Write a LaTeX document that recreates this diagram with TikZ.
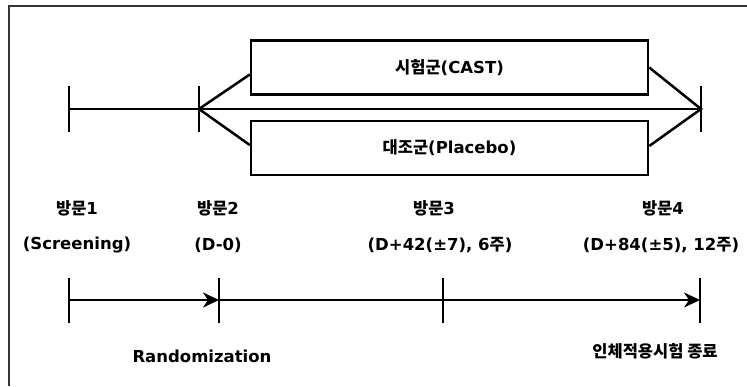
\documentclass[tikz,border=0pt]{standalone}
\usepackage{fontspec}
\setmainfont{DejaVu Sans}
\newfontfamily\krfont{Noto Sans CJK KR}
\newcommand{\kr}[1]{{\krfont #1}}
\usetikzlibrary{positioning,arrows.meta}

\tikzset{
  grp/.style={draw, line width=2.5, minimum width=397, minimum height=54, inner sep=0},
  lbl/.style={font=\bfseries\fontsize{16.5}{19}\selectfont, inner sep=1},
  tl/.style={line width=2.5},
  tip/.style={-{Stealth[length=16,width=15,inset=5]}},
}

\begin{document}
\begin{tikzpicture}[x=1pt,y=-1pt]
\useasboundingbox (0,0) rectangle (747,386);

% frame
\draw[line width=2, black!80] (9,386) -- (9,6) -- (747,6);

% groups
\node[grp, lbl] (cast) at (449.5,67.5) {\kr{시험군}(CAST)};
\node[grp, lbl] (placebo) at (449.5,148) {\kr{대조군}(Placebo)};

% upper timeline
\coordinate (u1) at (69,109);
\coordinate (u2) at (199,109);
\coordinate (u3) at (701,109);
\foreach \p in {u1,u2,u3}
  \draw[tl] ([yshift=-23]\p) -- ([yshift=23]\p);
\draw[tl] (u1) -- (u3);
\draw[tl] ([yshift=-7]cast.west) -- (u2) -- ([yshift=3]placebo.west);
\draw[tl] (cast.east) -- (u3) -- ([yshift=2]placebo.east);

% visits
\node[lbl] (v1) at (77,208) {\kr{방문}1};
\node[lbl] (v1d) at (77,245) {(Screening)};
\node[lbl] (v2) at (218,208) {\kr{방문}2};
\node[lbl] (v2d) at (218,245) {(D-0)};
\node[lbl] (v3) at (434,208) {\kr{방문}3};
\node[lbl] (v3d) at (440,245) {(D+42(±7), 6\kr{주})};
\node[lbl] (v4) at (663,208) {\kr{방문}4};
\node[lbl] (v4d) at (661,245) {(D+84(±5), 12\kr{주})};

% lower timeline
\coordinate (l1) at (69,300);
\coordinate (l2) at (219,300);
\coordinate (l3) at (443,300);
\coordinate (l4) at (700,300);
\foreach \p in {l1,l2,l3,l4}
  \draw[tl] ([yshift=-23]\p) -- ([yshift=22]\p);
\draw[tl, tip] (l1) -- (l2);
\draw[tl] (l2) -- (l3);
\draw[tl, tip] (l3) -- (l4);

\node[lbl] (rand) at (202,356) {Randomization};
\node[lbl] (fin) at (655,351) {\kr{인체적용시험 종료}};

\end{tikzpicture}
\end{document}
